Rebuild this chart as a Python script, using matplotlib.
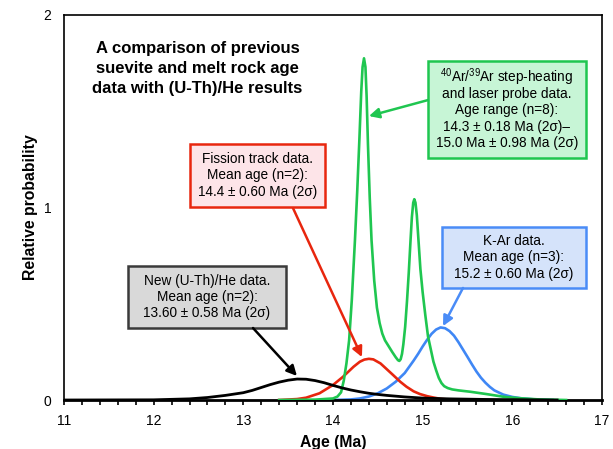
import matplotlib
matplotlib.use("Agg")
import matplotlib.pyplot as plt
from matplotlib.patches import Rectangle
from matplotlib.ticker import MultipleLocator

plt.rcParams['font.family'] = ['Liberation Sans', 'DejaVu Sans']
plt.rcParams['mathtext.fontset'] = 'custom'
plt.rcParams['mathtext.rm'] = 'Liberation Sans'

# Courbes : âge (Ma) -> probabilité relative
uthhe_age = [11.00, 12.00, 12.40, 12.60, 12.80, 13.00, 13.10, 13.20, 13.30, 13.40,
             13.50, 13.60, 13.70, 13.80, 13.90, 14.00, 14.10, 14.20, 14.30, 14.40,
             14.50, 14.60, 14.80, 15.00, 15.30, 15.70, 16.50]
uthhe_prob = [0.000, 0.001, 0.006, 0.013, 0.024, 0.038, 0.050, 0.065, 0.080, 0.093,
              0.103, 0.109, 0.108, 0.101, 0.090, 0.076, 0.063, 0.052, 0.043, 0.035,
              0.029, 0.024, 0.016, 0.010, 0.006, 0.003, 0.000]

ft_age = [13.40, 13.60, 13.70, 13.85, 14.00, 14.11, 14.23, 14.30, 14.35, 14.40,
          14.45, 14.53, 14.60, 14.67, 14.75, 14.82, 14.90, 14.97, 15.05, 15.12,
          15.20, 15.35]
ft_prob = [0.000, 0.005, 0.012, 0.035, 0.078, 0.120, 0.173, 0.199, 0.210, 0.214,
           0.211, 0.190, 0.160, 0.130, 0.095, 0.069, 0.045, 0.031, 0.020, 0.013,
           0.006, 0.000]

kar_age = [14.00, 14.20, 14.30, 14.40, 14.50, 14.60, 14.70, 14.80, 14.90, 14.95,
           15.00, 15.05, 15.10, 15.15, 15.20, 15.25, 15.30, 15.35, 15.40, 15.45,
           15.50, 15.55, 15.60, 15.65, 15.70, 15.75, 15.80, 15.90, 16.00, 16.10,
           16.25, 16.45]
kar_prob = [0.000, 0.003, 0.008, 0.018, 0.035, 0.060, 0.095, 0.140, 0.205, 0.240,
            0.278, 0.313, 0.344, 0.366, 0.377, 0.373, 0.358, 0.334, 0.300, 0.262,
            0.224, 0.185, 0.148, 0.116, 0.090, 0.068, 0.050, 0.028, 0.016, 0.009,
            0.003, 0.000]

arar_age = [13.40, 13.80, 14.00, 14.05, 14.09, 14.12, 14.15, 14.18, 14.21, 14.245,
            14.27, 14.295, 14.315, 14.330, 14.346, 14.362, 14.375, 14.390, 14.410, 14.430,
            14.460, 14.490, 14.520, 14.550, 14.58, 14.62, 14.66, 14.70, 14.725, 14.740,
            14.755, 14.770, 14.785, 14.805, 14.825, 14.845, 14.865, 14.880, 14.895, 14.907,
            14.920, 14.935, 14.955, 14.975, 15.000, 15.030, 15.060, 15.090, 15.120, 15.150,
            15.180, 15.210, 15.240, 15.280, 15.330, 15.400, 15.530, 15.710, 15.900, 16.090,
            16.300, 16.600]
arar_prob = [0.000, 0.002, 0.008, 0.018, 0.040, 0.100, 0.190, 0.310, 0.520, 0.830,
             1.080, 1.360, 1.600, 1.730, 1.775, 1.730, 1.580, 1.330, 1.050, 0.830,
             0.620, 0.480, 0.400, 0.345, 0.310, 0.280, 0.250, 0.222, 0.207, 0.203,
             0.212, 0.240, 0.290, 0.380, 0.510, 0.660, 0.830, 0.950, 1.025, 1.043,
             1.025, 0.960, 0.820, 0.680, 0.560, 0.440, 0.330, 0.265, 0.200, 0.155,
             0.115, 0.088, 0.072, 0.062, 0.055, 0.050, 0.043, 0.031, 0.017, 0.009,
             0.003, 0.000]

x_ticks = [11, 12, 13, 14, 15, 16, 17]
y_ticks = [0, 1, 2]

title_txt = "A comparison of previous\nsuevite and melt rock age\ndata with (U-Th)/He results"
uthhe_txt = "New (U-Th)/He data.\nMean age (n=2):\n13.60 ± 0.58 Ma (2σ)"
ft_txt = "Fission track data.\nMean age (n=2):\n14.4 ± 0.60 Ma (2σ)"
kar_txt = "K-Ar data.\nMean age (n=3):\n15.2 ± 0.60 Ma (2σ)"
arar_head = "$^{\\mathrm{40}}$Ar/$^{\\mathrm{39}}$Ar step-heating"
arar_txt = ("and laser probe data.\nAge range (n=8):\n14.3 ± 0.18 Ma (2σ)–\n"
            "15.0 Ma ± 0.98 Ma (2σ)")

fig = plt.figure(figsize=(6.13, 4.49), dpi=100, facecolor='white')
ax = fig.add_axes([0.1044, 0.1091, 0.8776, 0.8575])

ax.plot(kar_age, kar_prob, color='#3f87f5', lw=1.9, zorder=2)
ax.plot(ft_age, ft_prob, color='#e8260e', lw=1.9, zorder=3)
ax.plot(arar_age, arar_prob, color='#1fc650', lw=1.9, zorder=4)
ax.plot(uthhe_age, uthhe_prob, color='black', lw=2.0, zorder=5)

ax.set_xlim(11, 17)
ax.set_ylim(0, 2)
ax.set_xticks(x_ticks)
ax.set_yticks(y_ticks)
ax.xaxis.set_minor_locator(MultipleLocator(0.2))
ax.tick_params(axis='x', which='both', direction='out', length=3.6, width=1.2,
               labelsize=10, pad=6.5)
ax.tick_params(axis='y', length=0, labelsize=10, pad=9)
for side in ['left', 'top', 'right']:
    ax.spines[side].set_linewidth(1.2)
ax.spines['bottom'].set_linewidth(2.0)

ax.set_ylabel("Relative probability", fontsize=11.3, fontweight='bold', labelpad=4)
ax.set_xlabel("Age (Ma)", fontsize=11.3, fontweight='bold', labelpad=5)

ax.text(12.49, 1.72, title_txt, ha='center', va='center', fontsize=12,
        fontweight='bold', linespacing=1.42)

# Encadrés : (gauche, bas, droite, haut) en coordonnées données
boxes = [
    ((11.714, 0.374, 13.476, 0.696), '#d9d9d9', '#3a3a3a', uthhe_txt),
    ((12.405, 1.003, 13.910, 1.330), '#fde4e8', '#e8260e', ft_txt),
    ((15.059, 1.257, 16.821, 1.761), '#c7f5d6', '#1fc650', None),
    ((15.215, 0.582, 16.821, 0.899), '#d5e3fa', '#4a8cf7', kar_txt),
]
for (x0, y0, x1, y1), face, edge, txt in boxes:
    ax.add_patch(Rectangle((x0, y0), x1 - x0, y1 - y0, facecolor=face,
                           edgecolor=edge, lw=1.8, zorder=6))
    if txt:
        ax.text((x0 + x1) / 2, (y0 + y1) / 2, txt, ha='center', va='center',
                fontsize=9.8, linespacing=1.22, zorder=7)

# texte Ar/Ar : première ligne à part (exposants)
ax.text(15.94, 1.652, arar_head, ha='center', va='baseline', fontsize=9.8, zorder=7)
ax.text(15.94, 1.462, arar_txt, ha='center', va='center', fontsize=9.8,
        linespacing=1.22, zorder=7)

arrows = [
    ((13.108, 0.374), (13.598, 0.125), 'black'),
    ((13.554, 0.997), (14.323, 0.223), '#e8260e'),
    ((15.059, 1.558), (14.401, 1.475), '#1fc650'),
    ((15.450, 0.582), (15.227, 0.384), '#4a8cf7'),
]
for start, end, col in arrows:
    ax.annotate("", xy=end, xytext=start, zorder=6,
                arrowprops=dict(arrowstyle='-|>', color=col, lw=1.8,
                                mutation_scale=15, shrinkA=0, shrinkB=0))

fig.savefig("out.png", dpi=100)
